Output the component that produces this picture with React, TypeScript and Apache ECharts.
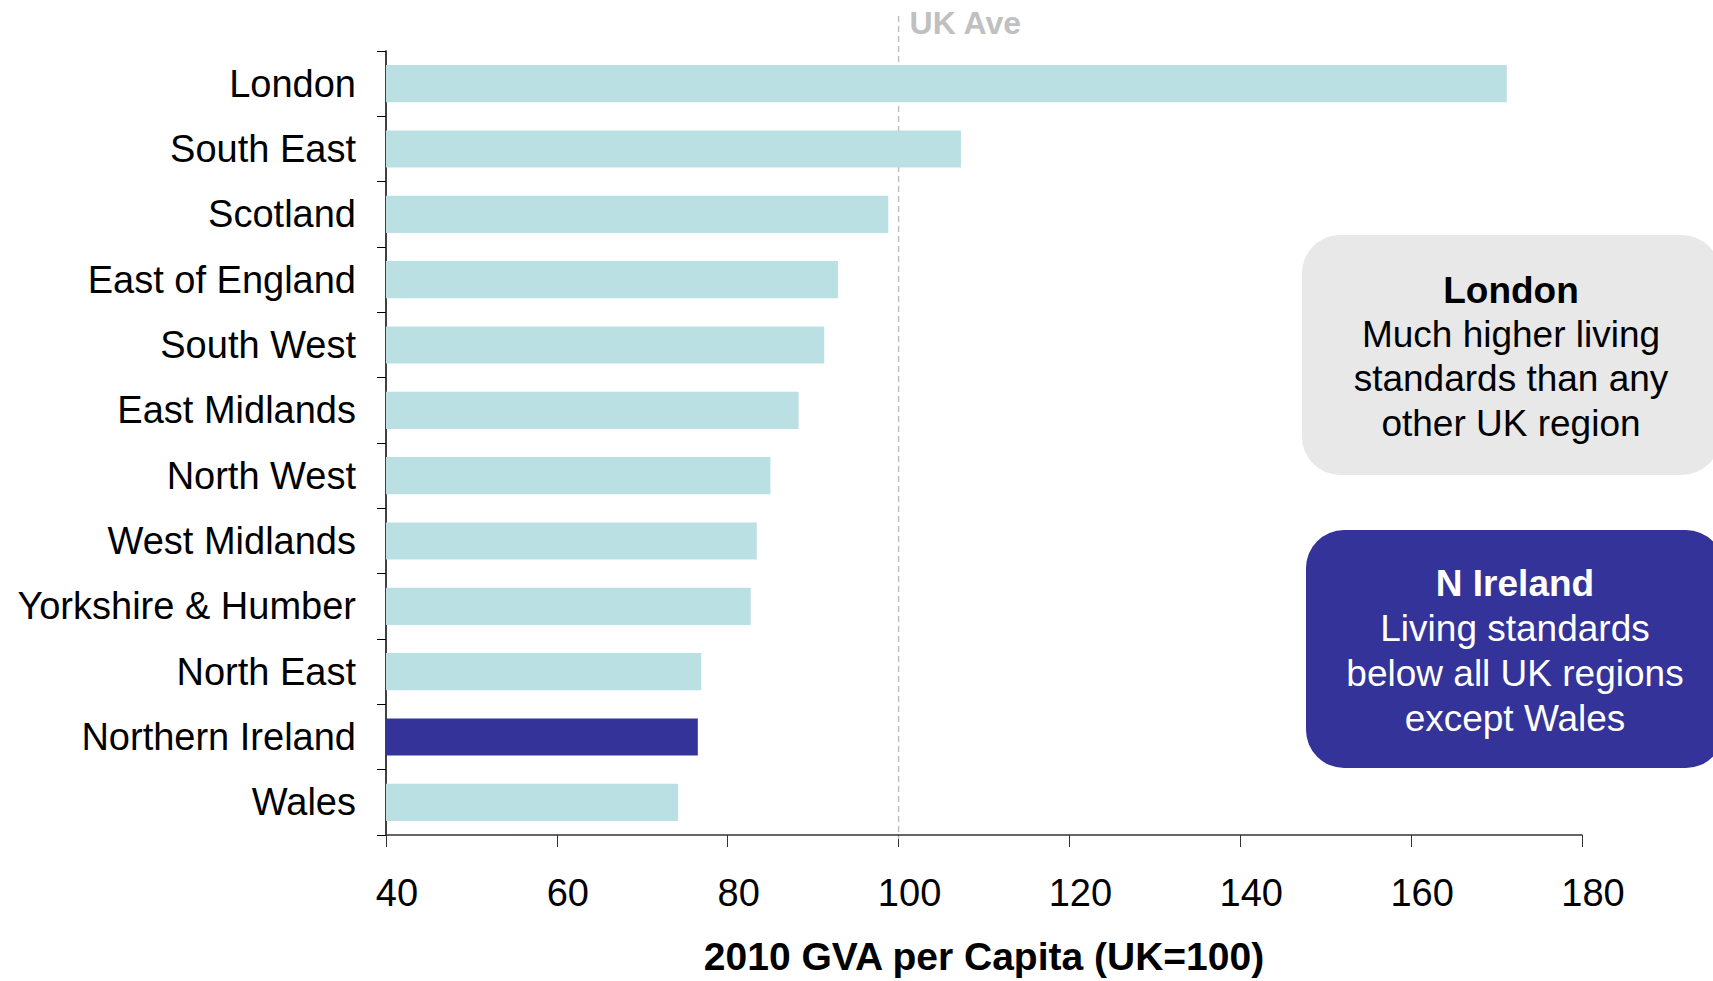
import React, { useEffect, useRef } from "react";
import * as echarts from "echarts";

const regions = [
  "London",
  "South East",
  "Scotland",
  "East of England",
  "South West",
  "East Midlands",
  "North West",
  "West Midlands",
  "Yorkshire & Humber",
  "North East",
  "Northern Ireland",
  "Wales",
];
const gvaIndex = [171.2, 107.3, 98.8, 92.9, 91.3, 88.3, 85.0, 83.4, 82.7, 76.9, 76.5, 74.2];
const highlightRegion = "Northern Ireland";
const ukAverage = 100;
const xTicks = { min: 40, max: 180, interval: 20 };
const axisTitle = "2010 GVA per Capita (UK=100)";
const londonNote = { title: "London", body: "Much higher living\nstandards than any\nother UK region" };
const niNote = { title: "N Ireland", body: "Living standards\nbelow all UK regions\nexcept Wales" };

const FONT = "'Liberation Sans', Arial, sans-serif";
const BAR = "#bbe0e3";
const DARK = "#343399";

export default function App() {
  const ref = useRef<HTMLDivElement>(null);
  useEffect(() => {
    document.body.style.margin = "0";
    document.body.style.overflow = "hidden";
    const chart = echarts.init(ref.current!, null, { renderer: "svg" });
    const option: any = {
      animation: false,
      backgroundColor: "#ffffff",
      grid: { left: 386, right: 131, top: 51, bottom: 141, containLabel: false },
      xAxis: {
        type: "value",
        min: xTicks.min,
        max: xTicks.max,
        interval: xTicks.interval,
        splitLine: { show: false },
        axisLine: { show: true, lineStyle: { color: "#333", width: 1.5 } },
        axisTick: { show: true, length: 12, lineStyle: { color: "#333" } },
        axisLabel: {
          color: "#000",
          fontSize: 38,
          fontFamily: FONT,
          margin: 39,
          padding: [0, 0, 0, 22],
        },
        name: axisTitle,
        nameLocation: "middle",
        nameGap: 102,
        nameTextStyle: { color: "#000", fontSize: 39, fontWeight: "bold", fontFamily: FONT },
      },
      yAxis: {
        type: "category",
        data: regions,
        inverse: true,
        axisLine: { show: true, lineStyle: { color: "#000", width: 1.5 } },
        axisTick: { show: true, length: 9, inside: false, lineStyle: { color: "#000" } },
        axisLabel: { color: "#000", fontSize: 38, fontFamily: FONT, margin: 30 },
      },
      series: [
        {
          type: "bar",
          barCategoryGap: "43%",
          data: regions.map((r, i) => ({
            value: gvaIndex[i],
            itemStyle: { color: r === highlightRegion ? DARK : BAR },
          })),
        },
      ],
    };
    chart.setOption(option);

    const x100 = chart.convertToPixel({ xAxisIndex: 0 }, ukAverage) as number;
    chart.setOption({
      graphic: [
        {
          type: "line",
          shape: { x1: x100, y1: 16, x2: x100, y2: 839 },
          style: { stroke: "#c0c0c0", lineWidth: 1.5, lineDash: [6, 4] },
          z: 1,
        },
        {
          type: "text",
          x: x100 + 11,
          y: 23,
          style: {
            text: "UK Ave",
            fill: "#c0c0c0",
            font: `bold 32px ${FONT}`,
            textVerticalAlign: "middle",
            textAlign: "left",
          },
        },
        {
          type: "rect",
          shape: { x: 1302, y: 235, width: 418, height: 240, r: 38 },
          style: { fill: "#e8e8e8" },
        },
        {
          type: "text",
          x: 1511,
          y: 290,
          style: {
            text: londonNote.title,
            fill: "#000",
            font: `bold 37px ${FONT}`,
            textAlign: "center",
            textVerticalAlign: "middle",
          },
        },
        {
          type: "text",
          x: 1511,
          y: 378.5,
          style: {
            text: londonNote.body,
            fill: "#000",
            font: `37px ${FONT}`,
            lineHeight: 44.5,
            textAlign: "center",
            textVerticalAlign: "middle",
          },
        },
        {
          type: "rect",
          shape: { x: 1306, y: 530, width: 418, height: 238, r: 38 },
          style: { fill: DARK },
        },
        {
          type: "text",
          x: 1515,
          y: 583,
          style: {
            text: niNote.title,
            fill: "#fff",
            font: `bold 37px ${FONT}`,
            textAlign: "center",
            textVerticalAlign: "middle",
          },
        },
        {
          type: "text",
          x: 1515,
          y: 673,
          style: {
            text: niNote.body,
            fill: "#fff",
            font: `37px ${FONT}`,
            lineHeight: 45,
            textAlign: "center",
            textVerticalAlign: "middle",
          },
        },
      ],
    });
    return () => chart.dispose();
  }, []);
  return <div ref={ref} style={{ width: 1713, height: 981 }} />;
}
